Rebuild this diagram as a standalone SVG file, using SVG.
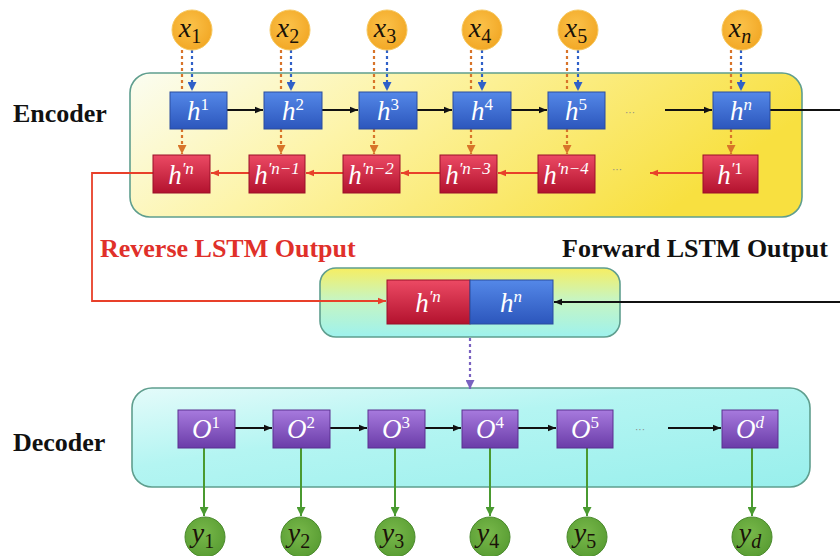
<svg xmlns="http://www.w3.org/2000/svg" width="840" height="556" viewBox="0 0 840 556">
<defs>
<linearGradient id="gEnc" x1="0" y1="0" x2="1" y2="0.3">
<stop offset="0" stop-color="#fbfdf2"/>
<stop offset="0.4" stop-color="#fdf4a8"/>
<stop offset="1" stop-color="#f8e040"/>
</linearGradient>
<linearGradient id="gMid" x1="0" y1="0" x2="0" y2="1">
<stop offset="0" stop-color="#f6ee62"/>
<stop offset="0.45" stop-color="#c8f5c0"/>
<stop offset="1" stop-color="#9ef2ee"/>
</linearGradient>
<linearGradient id="gDec" x1="0" y1="0" x2="1" y2="1">
<stop offset="0" stop-color="#e4fbfa"/>
<stop offset="0.4" stop-color="#b4f5f2"/>
<stop offset="1" stop-color="#98efec"/>
</linearGradient>
<linearGradient id="gBlue" x1="0" y1="0" x2="0" y2="1">
<stop offset="0" stop-color="#5488e8"/>
<stop offset="1" stop-color="#2c56bc"/>
</linearGradient>
<linearGradient id="gRed" x1="0" y1="0" x2="0" y2="1">
<stop offset="0" stop-color="#ec4a64"/>
<stop offset="1" stop-color="#b3122e"/>
</linearGradient>
<linearGradient id="gPur" x1="0" y1="0" x2="0" y2="1">
<stop offset="0" stop-color="#a77ade"/>
<stop offset="1" stop-color="#6a3ca8"/>
</linearGradient>
<radialGradient id="gX" cx="0.45" cy="0.4" r="0.6">
<stop offset="0" stop-color="#fbc24a"/>
<stop offset="1" stop-color="#f2a826"/>
</radialGradient>
<radialGradient id="gY" cx="0.45" cy="0.4" r="0.6">
<stop offset="0" stop-color="#78b84a"/>
<stop offset="1" stop-color="#5a9e34"/>
</radialGradient>
<marker id="mK" viewBox="0 0 10 10" refX="10" refY="5" markerWidth="8" markerHeight="8" markerUnits="userSpaceOnUse" orient="auto"><path d="M0,1 L10,5 L0,9 z" fill="#111"/></marker>
<marker id="mR" viewBox="0 0 10 10" refX="10" refY="5" markerWidth="8" markerHeight="8" markerUnits="userSpaceOnUse" orient="auto"><path d="M0,1 L10,5 L0,9 z" fill="#e8402a"/></marker>
<marker id="mO" viewBox="0 0 10 10" refX="10" refY="5" markerWidth="9" markerHeight="9" markerUnits="userSpaceOnUse" orient="auto"><path d="M0,0 L10,5 L0,10 z" fill="#d8742a"/></marker>
<marker id="mB" viewBox="0 0 10 10" refX="10" refY="5" markerWidth="9" markerHeight="9" markerUnits="userSpaceOnUse" orient="auto"><path d="M0,0 L10,5 L0,10 z" fill="#2f60c8"/></marker>
<marker id="mP" viewBox="0 0 10 10" refX="10" refY="5" markerWidth="9" markerHeight="9" markerUnits="userSpaceOnUse" orient="auto"><path d="M0,0 L10,5 L0,10 z" fill="#7a62c0"/></marker>
<marker id="mG" viewBox="0 0 10 10" refX="10" refY="5" markerWidth="9" markerHeight="9" markerUnits="userSpaceOnUse" orient="auto"><path d="M0,0 L10,5 L0,10 z" fill="#4a9a30"/></marker>
</defs>
<style>
.frame{stroke:#5f9e8e;stroke-width:1.6}
.blue{fill:url(#gBlue);stroke:#2a4c9e;stroke-width:1}
.red{fill:url(#gRed);stroke:#9a1028;stroke-width:1}
.pur{fill:url(#gPur);stroke:#5a3090;stroke-width:1}
.xc{fill:url(#gX);stroke:#f6c860;stroke-width:1}
.yc{fill:url(#gY);stroke:#4a8a2c;stroke-width:1}
.bt{font-family:"Liberation Serif",serif;font-style:italic;font-size:27px;fill:#ffffff;text-anchor:middle}
.sup{font-size:17px}
.supn{font-size:17px;font-style:normal}
.lab{font-family:"Liberation Serif",serif;font-weight:bold;font-size:26px}
.ct{font-family:"Liberation Serif",serif;font-style:italic;font-size:28px;fill:#1a1208;text-anchor:middle}
.sub{font-size:20px;font-style:normal}
.subi{font-size:20px}
.dots{font-family:"Liberation Sans",sans-serif;font-size:10px;fill:#888;text-anchor:middle}
.k{stroke:#111;stroke-width:1.8;fill:none}
.r{stroke:#e8402a;stroke-width:1.8;fill:none}
.od{stroke:#d8742a;stroke-width:2.2;stroke-dasharray:3 3;fill:none}
.bd{stroke:#2f60c8;stroke-width:2.2;stroke-dasharray:3 3;fill:none}
.pd{stroke:#7a62c0;stroke-width:2.2;stroke-dasharray:3 3;fill:none}
.g{stroke:#4a9a30;stroke-width:2;fill:none}
</style>

<g id="labels">
<text class="lab" x="13" y="122" fill="#111">Encoder</text>
<text class="lab" x="13" y="451" fill="#111">Decoder</text>
<text class="lab" x="100" y="257" fill="#e0302a">Reverse LSTM Output</text>
<text class="lab" x="562" y="257" fill="#111">Forward LSTM Output</text>
</g>

<g id="encoder"><rect x="130" y="73" width="672" height="144" rx="20" fill="url(#gEnc)" class="frame"/></g>
<g id="merge"><rect x="320" y="268" width="300" height="69" rx="16" fill="url(#gMid)" class="frame"/></g>
<g id="decoder"><rect x="132" y="388" width="678" height="99" rx="20" fill="url(#gDec)" class="frame"/></g>

<g id="connectors">
<path class="bd" d="M192,50 V91" marker-end="url(#mB)"/>
<path class="bd" d="M291,50 V91" marker-end="url(#mB)"/>
<path class="bd" d="M387,50 V91" marker-end="url(#mB)"/>
<path class="bd" d="M482,50 V91" marker-end="url(#mB)"/>
<path class="bd" d="M578,50 V91" marker-end="url(#mB)"/>
<path class="bd" d="M741,50 V91" marker-end="url(#mB)"/>
<path class="od" d="M182,50 V92 M182,129 V154" marker-end="url(#mO)"/>
<path class="od" d="M281,50 V92 M281,129 V154" marker-end="url(#mO)"/>
<path class="od" d="M374,50 V92 M374,129 V154" marker-end="url(#mO)"/>
<path class="od" d="M471,50 V92 M471,129 V154" marker-end="url(#mO)"/>
<path class="od" d="M567,50 V92 M567,129 V154" marker-end="url(#mO)"/>
<path class="od" d="M731,50 V92 M731,129 V154" marker-end="url(#mO)"/>
<path class="k" d="M227,110 H263" marker-end="url(#mK)"/>
<path class="k" d="M322,110 H358" marker-end="url(#mK)"/>
<path class="k" d="M417,110 H452" marker-end="url(#mK)"/>
<path class="k" d="M511,110 H547" marker-end="url(#mK)"/>
<path class="k" d="M665,110 H712" marker-end="url(#mK)"/>
<path class="k" d="M770,110 H840"/>
<path class="k" d="M840,302 H554" marker-end="url(#mK)"/>
<path class="r" d="M249,173 H211" marker-end="url(#mR)"/>
<path class="r" d="M343,173 H306" marker-end="url(#mR)"/>
<path class="r" d="M440,173 H401" marker-end="url(#mR)"/>
<path class="r" d="M538,173 H498" marker-end="url(#mR)"/>
<path class="r" d="M703,173 H650" marker-end="url(#mR)"/>
<path class="r" d="M153,173 H92 V301 H386" marker-end="url(#mR)"/>
<path class="pd" d="M470,338 V389" marker-end="url(#mP)"/>
<path class="k" d="M235,428 H272" marker-end="url(#mK)"/>
<path class="k" d="M330,428 H367" marker-end="url(#mK)"/>
<path class="k" d="M425,428 H461" marker-end="url(#mK)"/>
<path class="k" d="M518,428 H556" marker-end="url(#mK)"/>
<path class="k" d="M668,428 H721" marker-end="url(#mK)"/>
<path class="g" d="M204,448 V516" marker-end="url(#mG)"/>
<path class="g" d="M301,448 V516" marker-end="url(#mG)"/>
<path class="g" d="M395,448 V516" marker-end="url(#mG)"/>
<path class="g" d="M490,448 V516" marker-end="url(#mG)"/>
<path class="g" d="M587,448 V516" marker-end="url(#mG)"/>
<path class="g" d="M752,448 V516" marker-end="url(#mG)"/>
<text class="dots" x="630" y="116">···</text>
<text class="dots" x="617" y="173">···</text>
<text class="dots" x="640" y="433">···</text>
</g>

<g id="x1"><circle class="xc" cx="192" cy="30" r="20"/><text class="ct" x="190" y="37">x<tspan class="sub" dy="6">1</tspan></text></g>
<g id="x2"><circle class="xc" cx="290" cy="30" r="20"/><text class="ct" x="288" y="37">x<tspan class="sub" dy="6">2</tspan></text></g>
<g id="x3"><circle class="xc" cx="387" cy="30" r="20"/><text class="ct" x="385" y="37">x<tspan class="sub" dy="6">3</tspan></text></g>
<g id="x4"><circle class="xc" cx="482" cy="30" r="20"/><text class="ct" x="480" y="37">x<tspan class="sub" dy="6">4</tspan></text></g>
<g id="x5"><circle class="xc" cx="578" cy="30" r="20"/><text class="ct" x="576" y="37">x<tspan class="sub" dy="6">5</tspan></text></g>
<g id="xn"><circle class="xc" cx="742" cy="30" r="20"/><text class="ct" x="740" y="37">x<tspan class="subi" dy="6">n</tspan></text></g>

<g id="h1"><rect class="blue" x="170" y="92" width="57" height="37"/><text class="bt" x="198" y="120">h<tspan class="supn" dy="-10">1</tspan></text></g>
<g id="h2"><rect class="blue" x="264" y="92" width="58" height="37"/><text class="bt" x="293" y="120">h<tspan class="supn" dy="-10">2</tspan></text></g>
<g id="h3"><rect class="blue" x="359" y="92" width="58" height="37"/><text class="bt" x="388" y="120">h<tspan class="supn" dy="-10">3</tspan></text></g>
<g id="h4"><rect class="blue" x="453" y="92" width="58" height="37"/><text class="bt" x="482" y="120">h<tspan class="supn" dy="-10">4</tspan></text></g>
<g id="h5"><rect class="blue" x="548" y="92" width="57" height="37"/><text class="bt" x="576" y="120">h<tspan class="supn" dy="-10">5</tspan></text></g>
<g id="hn"><rect class="blue" x="713" y="92" width="57" height="37"/><text class="bt" x="741" y="120">h<tspan class="sup" dy="-10">n</tspan></text></g>

<g id="rn"><rect class="red" x="153" y="155" width="57" height="38"/><text class="bt" x="181" y="184">h<tspan class="sup" dy="-10">′n</tspan></text></g>
<g id="rn1"><rect class="red" x="249" y="155" width="56" height="38"/><text class="bt" x="277" y="184">h<tspan class="sup" dy="-10">′n−1</tspan></text></g>
<g id="rn2"><rect class="red" x="343" y="155" width="57" height="38"/><text class="bt" x="371" y="184">h<tspan class="sup" dy="-10">′n−2</tspan></text></g>
<g id="rn3"><rect class="red" x="440" y="155" width="57" height="38"/><text class="bt" x="468" y="184">h<tspan class="sup" dy="-10">′n−3</tspan></text></g>
<g id="rn4"><rect class="red" x="538" y="155" width="57" height="38"/><text class="bt" x="566" y="184">h<tspan class="sup" dy="-10">′n−4</tspan></text></g>
<g id="r1"><rect class="red" x="703" y="155" width="55" height="38"/><text class="bt" x="730" y="184">h<tspan class="sup" dy="-10">′</tspan><tspan class="supn">1</tspan></text></g>

<g id="mrn"><rect class="red" x="387" y="280" width="83" height="44"/><text class="bt" x="428" y="312">h<tspan class="sup" dy="-10">′n</tspan></text></g>
<g id="mhn"><rect class="blue" x="470" y="280" width="83" height="44"/><text class="bt" x="511" y="312">h<tspan class="sup" dy="-10">n</tspan></text></g>

<g id="o1"><rect class="pur" x="178" y="410" width="57" height="38"/><text class="bt" x="206" y="438">O<tspan class="supn" dy="-10">1</tspan></text></g>
<g id="o2"><rect class="pur" x="273" y="410" width="57" height="38"/><text class="bt" x="301" y="438">O<tspan class="supn" dy="-10">2</tspan></text></g>
<g id="o3"><rect class="pur" x="368" y="410" width="57" height="38"/><text class="bt" x="396" y="438">O<tspan class="supn" dy="-10">3</tspan></text></g>
<g id="o4"><rect class="pur" x="462" y="410" width="56" height="38"/><text class="bt" x="490" y="438">O<tspan class="supn" dy="-10">4</tspan></text></g>
<g id="o5"><rect class="pur" x="557" y="410" width="56" height="38"/><text class="bt" x="585" y="438">O<tspan class="supn" dy="-10">5</tspan></text></g>
<g id="od"><rect class="pur" x="722" y="410" width="56" height="38"/><text class="bt" x="750" y="438">O<tspan class="sup" dy="-10">d</tspan></text></g>

<g id="y1"><circle class="yc" cx="205" cy="537" r="20"/><text class="ct" x="203" y="542">y<tspan class="sub" dy="6">1</tspan></text></g>
<g id="y2"><circle class="yc" cx="301" cy="537" r="20"/><text class="ct" x="299" y="542">y<tspan class="sub" dy="6">2</tspan></text></g>
<g id="y3"><circle class="yc" cx="395" cy="537" r="20"/><text class="ct" x="393" y="542">y<tspan class="sub" dy="6">3</tspan></text></g>
<g id="y4"><circle class="yc" cx="490" cy="537" r="20"/><text class="ct" x="488" y="542">y<tspan class="sub" dy="6">4</tspan></text></g>
<g id="y5"><circle class="yc" cx="587" cy="537" r="20"/><text class="ct" x="585" y="542">y<tspan class="sub" dy="6">5</tspan></text></g>
<g id="yd"><circle class="yc" cx="752" cy="537" r="20"/><text class="ct" x="750" y="542">y<tspan class="subi" dy="6">d</tspan></text></g>
</svg>
